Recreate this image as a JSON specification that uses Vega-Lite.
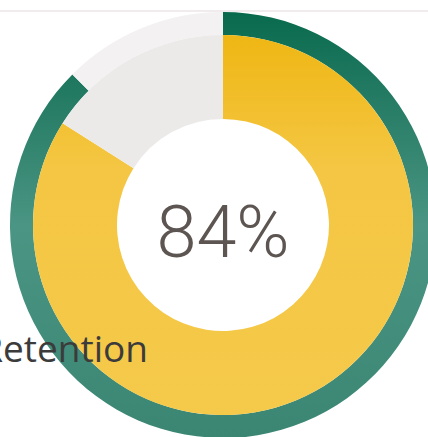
{
  "$schema": "https://vega.github.io/schema/vega-lite/v6.json",
  "width": 446,
  "height": 428,
  "autosize": "none",
  "padding": {"top": 11, "left": 0, "right": 0, "bottom": 0},
  "background": "white",
  "config": {"view": {"stroke": null}},
  "datasets": {
    "inner": [
      {"part": "Retained", "value": 84, "order": 1},
      {"part": "Lost", "value": 16, "order": 2}
    ],
    "outer": [
      {"part": "Target", "value": 87.5, "order": 1},
      {"part": "Rest", "value": 12.5, "order": 2}
    ]
  },
  "layer": [
    {
      "data": {"values": [{"line": "top"}]},
      "mark": {"type": "rule", "color": "#ebe6e8", "strokeWidth": 1.5},
      "encoding": {"y": {"value": 0}}
    },
    {
      "data": {"name": "outer"},
      "mark": {"type": "arc", "innerRadius": 190, "outerRadius": 213, "stroke": null},
      "encoding": {
        "theta": {"field": "value", "type": "quantitative", "stack": true},
        "order": {"field": "order", "type": "quantitative"},
        "fill": {
          "condition": {
            "test": "datum.part === 'Target'",
            "value": {
              "gradient": "linear", "x1": 0, "y1": 0, "x2": 0, "y2": 1,
              "stops": [
                {"offset": 0, "color": "#086a4d"},
                {"offset": 0.25, "color": "#2b7f69"},
                {"offset": 0.5, "color": "#4a9583"},
                {"offset": 1, "color": "#3a8673"}
              ]
            }
          },
          "value": "#f3f1f2"
        }
      }
    },
    {
      "data": {"name": "inner"},
      "mark": {"type": "arc", "innerRadius": 106, "outerRadius": 190, "stroke": null},
      "encoding": {
        "theta": {"field": "value", "type": "quantitative", "stack": true},
        "order": {"field": "order", "type": "quantitative"},
        "fill": {
          "condition": {
            "test": "datum.part === 'Retained'",
            "value": {
              "gradient": "linear", "x1": 0, "y1": 0, "x2": 0, "y2": 1,
              "stops": [
                {"offset": 0, "color": "#efb714"},
                {"offset": 0.35, "color": "#f4c643"},
                {"offset": 1, "color": "#f5c94a"}
              ]
            }
          },
          "value": "#eceae9"
        }
      }
    },
    {
      "data": {"values": [{"label": "84%"}]},
      "mark": {"type": "text", "font": "Roboto", "fontWeight": 300, "fontSize": 72, "color": "#5d5552", "align": "center", "baseline": "alphabetic", "dy": 32},
      "encoding": {"text": {"field": "label"}}
    },
    {
      "data": {"values": [{"label": "Retention"}]},
      "mark": {"type": "text", "font": "Open Sans", "fontSize": 37, "color": "#3c3b3b", "align": "right", "baseline": "alphabetic", "dx": -75, "dy": 137},
      "encoding": {"text": {"field": "label"}}
    }
  ]
}
